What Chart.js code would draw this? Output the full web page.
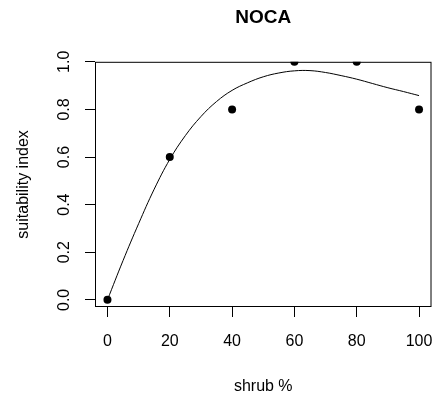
<!DOCTYPE html>
<html>
<head>
<meta charset="utf-8">
<script src="https://cdn.jsdelivr.net/npm/chart.js@4"></script>
<style>
  body { margin: 0; background: #fff; }
  #wrap { width: 448px; height: 399px; }
</style>
</head>
<body>
<div id="wrap"><canvas id="myChart" width="448" height="399"></canvas></div>
<script>
const chartTitle = 'NOCA';
const xLabel = 'shrub %';
const yLabel = 'suitability index';

// observed points
const pointX = [0, 20, 40, 60, 80, 100];
const pointY = [0, 0.6, 0.8, 1.0, 1.0, 0.8];

// fitted curve
const curveX = [0, 5, 10, 15, 20, 25, 30, 35, 40, 45, 50, 55, 60, 65, 70, 75, 80, 85, 90, 95, 100];
const curveY = [0, 0.165, 0.32, 0.465, 0.59, 0.69, 0.77, 0.833, 0.88, 0.912, 0.937, 0.953, 0.962, 0.963, 0.955, 0.942, 0.927, 0.909, 0.891, 0.875, 0.858];

const xTicks = [0, 20, 40, 60, 80, 100];
const yTicks = [0, 0.2, 0.4, 0.6, 0.8, 1.0];

const font = 'Liberation Sans, Arial, sans-serif';

const boxPlugin = {
  id: 'box',
  afterDraw(chart) {
    const a = chart.chartArea;
    const ctx = chart.ctx;
    ctx.save();
    ctx.strokeStyle = '#000';
    ctx.lineWidth = 1;
    ctx.strokeRect(a.left + 0.5, a.top + 0.5, a.right - a.left - 1, a.bottom - a.top - 1);
    ctx.restore();
  }
};

const ctx = document.getElementById('myChart').getContext('2d');
const myChart = new Chart(ctx, {
  type: 'scatter',
  data: {
    datasets: [
      {
        label: 'fit',
        data: curveX.map((x, i) => ({ x: x, y: curveY[i] })),
        showLine: true,
        borderColor: '#000',
        borderWidth: 1,
        pointRadius: 0,
        tension: 0.4,
        clip: 0
      },
      {
        label: 'observed',
        data: pointX.map((x, i) => ({ x: x, y: pointY[i] })),
        backgroundColor: '#000',
        borderColor: '#000',
        pointRadius: 4,
        borderWidth: 0,
        clip: 0
      }
    ]
  },
  options: {
    responsive: false,
    animation: false,
    layout: { padding: { left: 0, right: 5, top: 0, bottom: 0 } },
    plugins: {
      legend: { display: false },
      tooltip: { enabled: false },
      title: {
        display: true,
        text: chartTitle,
        color: '#000',
        fullSize: false,
        font: { family: font, size: 19, weight: 'bold' },
        padding: { top: 6, bottom: 33 }
      }
    },
    scales: {
      x: {
        type: 'linear',
        min: -4,
        max: 104,
        afterBuildTicks: (scale) => { scale.ticks = xTicks.map(v => ({ value: v })); },
        afterFit: (scale) => { scale.height = 92; },
        border: { display: false },
        grid: { display: true, drawOnChartArea: false, drawTicks: true, tickLength: 10, color: '#000' },
        ticks: {
          color: '#000',
          padding: 15,
          maxRotation: 0,
          font: { family: font, size: 16 },
          callback: (v) => String(v)
        },
        title: {
          display: true,
          text: xLabel,
          color: '#000',
          font: { family: font, size: 16 },
          padding: { top: 0, bottom: 3 }
        }
      },
      y: {
        type: 'linear',
        min: -0.03,
        max: 1.0,
        afterBuildTicks: (scale) => { scale.ticks = yTicks.map(v => ({ value: v })); },
        afterFit: (scale) => { scale.width = 95; },
        border: { display: false },
        grid: { display: true, drawOnChartArea: false, drawTicks: true, tickLength: 10, color: '#000' },
        ticks: {
          color: '#000',
          padding: 9,
          minRotation: 90,
          maxRotation: 90,
          crossAlign: 'center',
          font: { family: font, size: 16 },
          callback: (v) => Number(v).toFixed(1)
        },
        title: {
          display: true,
          text: yLabel,
          color: '#000',
          font: { family: font, size: 16 },
          padding: { top: 14, bottom: 0 }
        }
      }
    }
  },
  plugins: [boxPlugin]
});
</script>
</body>
</html>
